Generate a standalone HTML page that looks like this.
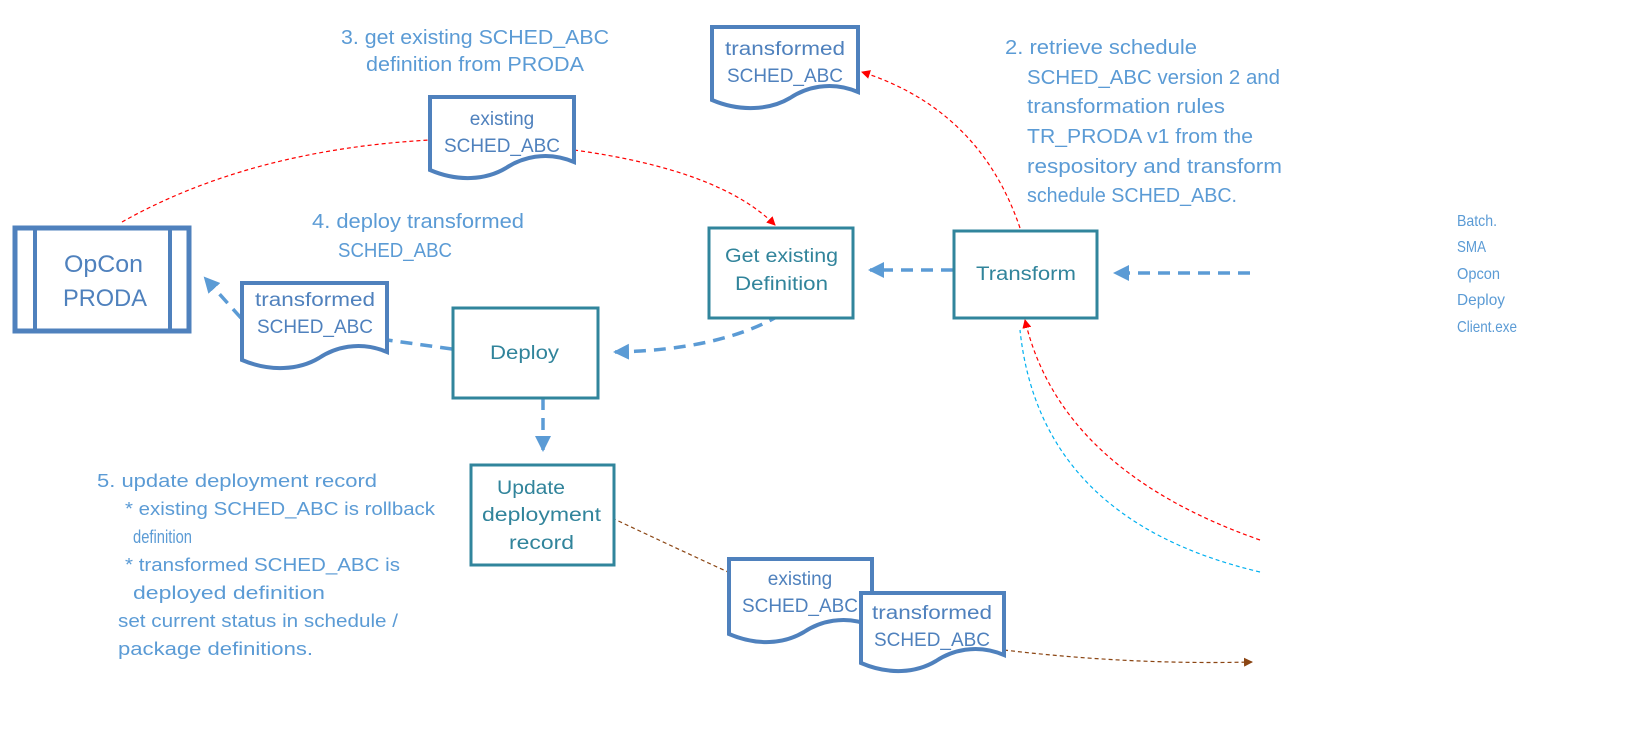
<!DOCTYPE html>
<html><head><meta charset="utf-8"><style>
html,body{margin:0;padding:0;background:#fff;width:1632px;height:747px;overflow:hidden}
svg{display:block}
text{font-family:"Liberation Sans",sans-serif}
.b{fill:#5b9bd5;font-size:19px}
.t{fill:#31849b;font-size:19px}
.d{fill:#4f81bd;font-size:19px}
.doc{fill:#fff;stroke:#4f81bd;stroke-width:4}
.box{fill:#fff;stroke:#31859c;stroke-width:3}
.bl{fill:none;stroke:#5b9bd5;stroke-width:3.5;stroke-dasharray:12 8}
.rd{fill:none;stroke:#f00;stroke-width:1.2;stroke-dasharray:4 3}
</style></head><body>
<svg width="1632" height="747" viewBox="0 0 1632 747">
<defs>
<marker id="ar" markerWidth="9" markerHeight="9" refX="8" refY="4.5" orient="auto" markerUnits="userSpaceOnUse"><path d="M0,0 L9,4.5 L0,9z" fill="#f00"/></marker>
<marker id="an" markerWidth="9" markerHeight="9" refX="8" refY="4.5" orient="auto" markerUnits="userSpaceOnUse"><path d="M0,0 L9,4.5 L0,9z" fill="#8b4513"/></marker>
<marker id="ab2" markerWidth="16" markerHeight="16" refX="14" refY="8" orient="auto" markerUnits="userSpaceOnUse"><path d="M0,0 L16,8 L0,16z" fill="#5b9bd5"/></marker>
</defs>

<path class="rd" d="M122,222 Q250,150 430,140"/>
<path class="rd" d="M574,150 Q720,170 775,225" marker-end="url(#ar)"/>
<path class="rd" d="M1020,228 Q980,110 862,72" marker-end="url(#ar)"/>
<path class="rd" d="M1260,540 Q1060,470 1025,320" marker-end="url(#ar)"/>
<path fill="none" stroke="#00b0f0" stroke-width="1.2" stroke-dasharray="4 3" d="M1260,572 Q1040,520 1020,330"/>
<path fill="none" stroke="#8b4513" stroke-width="1.2" stroke-dasharray="4 3" d="M612,518 Q680,550 728,572"/>
<path fill="none" stroke="#8b4513" stroke-width="1.2" stroke-dasharray="4 3" d="M1004,650 Q1130,665 1252,662" marker-end="url(#an)"/>

<path class="bl" d="M1250,273 L1115,273" marker-end="url(#ab2)"/>
<path class="bl" d="M953,270 L870,270" marker-end="url(#ab2)"/>
<path class="bl" d="M780,315 Q720,350 615,352" marker-end="url(#ab2)"/>
<path class="bl" d="M452,349 L387,340"/>
<path class="bl" d="M241,318 L205,278" marker-end="url(#ab2)"/>
<path class="bl" d="M543,398 L543,450" marker-end="url(#ab2)"/>

<rect x="15" y="228" width="174" height="103" fill="#fff" stroke="#4f81bd" stroke-width="5"/>
<line x1="35" y1="228" x2="35" y2="331" stroke="#4f81bd" stroke-width="4"/>
<line x1="170" y1="228" x2="170" y2="331" stroke="#4f81bd" stroke-width="4"/>
<text x="64" y="272" class="d" style="font-size:24px" textLength="79" lengthAdjust="spacingAndGlyphs">OpCon</text>
<text x="63" y="306" class="d" style="font-size:24px" textLength="84" lengthAdjust="spacingAndGlyphs">PRODA</text>

<path class="doc" d="M712,27 H858 V92 C830,80 805,88 790,98 C770,110 740,112 712,100 Z"/>
<text x="725" y="55" class="d" textLength="120" lengthAdjust="spacingAndGlyphs">transformed</text>
<text x="727" y="82" class="d" textLength="116" lengthAdjust="spacingAndGlyphs">SCHED_ABC</text>

<path class="doc" d="M430,97 H574 V162 C546,150 521,158 506,168 C486,180 458,182 430,170 Z"/>
<text x="502" y="125" text-anchor="middle" class="d">existing</text>
<text x="444" y="152" class="d" textLength="116" lengthAdjust="spacingAndGlyphs">SCHED_ABC</text>

<path class="doc" d="M242,283 H387 V352 C359,340 334,348 319,358 C299,370 270,372 242,360 Z"/>
<text x="255" y="306" class="d" textLength="120" lengthAdjust="spacingAndGlyphs">transformed</text>
<text x="257" y="333" class="d" textLength="116" lengthAdjust="spacingAndGlyphs">SCHED_ABC</text>

<path class="doc" d="M729,559 H872 V626 C844,614 819,622 804,632 C784,644 757,646 729,634 Z"/>
<text x="800" y="585" text-anchor="middle" class="d">existing</text>
<text x="742" y="612" class="d" textLength="116" lengthAdjust="spacingAndGlyphs">SCHED_ABC</text>

<path class="doc" d="M861,593 H1004 V655 C976,643 951,651 936,661 C916,673 889,675 861,663 Z"/>
<text x="872" y="619" class="d" textLength="120" lengthAdjust="spacingAndGlyphs">transformed</text>
<text x="874" y="646" class="d" textLength="116" lengthAdjust="spacingAndGlyphs">SCHED_ABC</text>

<rect class="box" x="709" y="228" width="144" height="90"/>
<text x="725" y="262" class="t" textLength="113" lengthAdjust="spacingAndGlyphs">Get existing</text>
<text x="735" y="290" class="t" textLength="93" lengthAdjust="spacingAndGlyphs">Definition</text>

<rect class="box" x="954" y="231" width="143" height="87"/>
<text x="976" y="280" class="t" textLength="100" lengthAdjust="spacingAndGlyphs">Transform</text>

<rect class="box" x="453" y="308" width="145" height="90"/>
<text x="490" y="359" class="t" textLength="69" lengthAdjust="spacingAndGlyphs">Deploy</text>

<rect class="box" x="471" y="465" width="143" height="100"/>
<text x="497" y="494" class="t" textLength="68" lengthAdjust="spacingAndGlyphs">Update</text>
<text x="482" y="521" class="t" textLength="119" lengthAdjust="spacingAndGlyphs">deployment</text>
<text x="509" y="549" class="t" textLength="65" lengthAdjust="spacingAndGlyphs">record</text>

<g class="b" style="font-size:20px">
<text x="341" y="44" textLength="268" lengthAdjust="spacingAndGlyphs">3. get existing SCHED_ABC</text>
<text x="366" y="71" textLength="218" lengthAdjust="spacingAndGlyphs">definition from PRODA</text>
<text x="312" y="228" textLength="212" lengthAdjust="spacingAndGlyphs">4. deploy transformed</text>
<text x="338" y="257" textLength="114" lengthAdjust="spacingAndGlyphs">SCHED_ABC</text>

<text x="1005" y="54" textLength="192" lengthAdjust="spacingAndGlyphs">2. retrieve schedule</text>
<text x="1027" y="84" textLength="253" lengthAdjust="spacingAndGlyphs">SCHED_ABC version 2 and</text>
<text x="1027" y="113" textLength="198" lengthAdjust="spacingAndGlyphs">transformation rules</text>
<text x="1027" y="143" textLength="226" lengthAdjust="spacingAndGlyphs">TR_PRODA v1 from the</text>
<text x="1027" y="173" textLength="255" lengthAdjust="spacingAndGlyphs">respository and transform</text>
<text x="1027" y="202" textLength="210" lengthAdjust="spacingAndGlyphs">schedule SCHED_ABC.</text>
</g>

<g class="b" style="font-size:16px">
<text x="1457" y="226" textLength="40" lengthAdjust="spacingAndGlyphs">Batch.</text>
<text x="1457" y="252" textLength="29" lengthAdjust="spacingAndGlyphs">SMA</text>
<text x="1457" y="279" textLength="43" lengthAdjust="spacingAndGlyphs">Opcon</text>
<text x="1457" y="305" textLength="48" lengthAdjust="spacingAndGlyphs">Deploy</text>
<text x="1457" y="332" textLength="60" lengthAdjust="spacingAndGlyphs">Client.exe</text>
</g>

<g class="b" style="font-size:18.5px">
<text x="97" y="487" textLength="280" lengthAdjust="spacingAndGlyphs">5. update deployment record</text>
<text x="125" y="515" textLength="310" lengthAdjust="spacingAndGlyphs">* existing SCHED_ABC is rollback</text>
<text x="133" y="543" textLength="59" lengthAdjust="spacingAndGlyphs">definition</text>
<text x="125" y="571" textLength="275" lengthAdjust="spacingAndGlyphs">* transformed SCHED_ABC is</text>
<text x="133" y="599" textLength="192" lengthAdjust="spacingAndGlyphs">deployed definition</text>
<text x="118" y="627" textLength="280" lengthAdjust="spacingAndGlyphs">set current status in schedule /</text>
<text x="118" y="655" textLength="195" lengthAdjust="spacingAndGlyphs">package definitions.</text>
</g>
</svg>
</body></html>
